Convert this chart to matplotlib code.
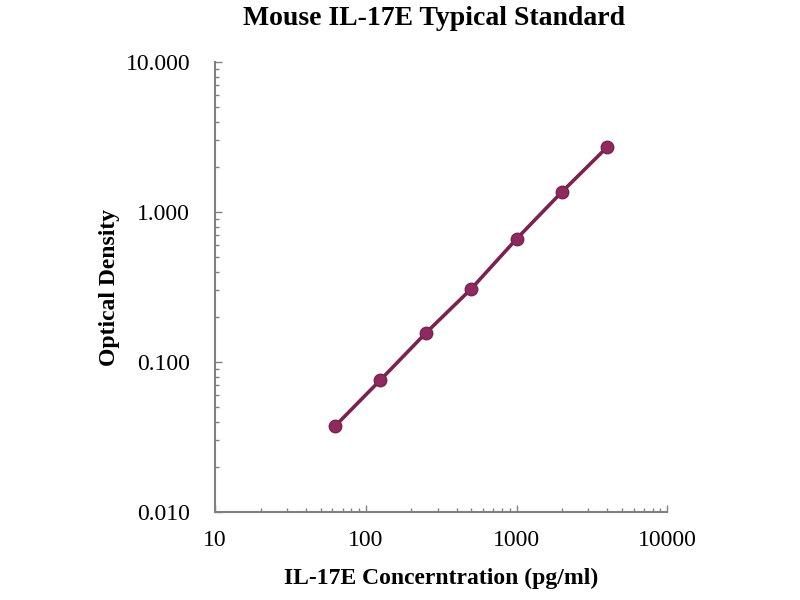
import matplotlib
matplotlib.use('Agg')
import matplotlib.pyplot as plt
from matplotlib.ticker import FixedLocator, FixedFormatter, LogLocator, NullFormatter

# standard curve readings
concentration = [62.5, 125, 250, 500, 1000, 2000, 4000]
optical_density = [0.0374, 0.0759, 0.156, 0.307, 0.661, 1.36, 2.71]

x_ticks = [10, 100, 1000, 10000]
x_labels = ['10', '100', '1000', '10000']
y_ticks = [0.01, 0.1, 1, 10]
y_labels = ['0.010', '0.100', '1.000', '10.000']

plt.rcParams['font.family'] = ['Liberation Serif', 'DejaVu Serif']

fig = plt.figure(figsize=(8, 6), dpi=100)
ax = fig.add_axes([0.269, 0.1467, 0.565, 0.75])

ax.plot(concentration, optical_density, color='#7a2350', linewidth=2.6,
        marker='o', markersize=9, markerfacecolor='#8e2a5e', markeredgecolor='#7a2350')

ax.set_xscale('log')
ax.set_yscale('log')
ax.set_xlim(10, 10000)
ax.set_ylim(0.01, 10)

ax.xaxis.set_major_locator(FixedLocator(x_ticks))
ax.xaxis.set_major_formatter(FixedFormatter(x_labels))
ax.yaxis.set_major_locator(FixedLocator(y_ticks))
ax.yaxis.set_major_formatter(FixedFormatter(y_labels))
ax.xaxis.set_minor_locator(LogLocator(base=10, subs=range(2, 10)))
ax.yaxis.set_minor_locator(LogLocator(base=10, subs=range(2, 10)))
ax.xaxis.set_minor_formatter(NullFormatter())
ax.yaxis.set_minor_formatter(NullFormatter())

# only left and bottom axes, ticks pointing in
for side in ['top', 'right']:
    ax.spines[side].set_visible(False)
for side in ['left', 'bottom']:
    ax.spines[side].set_color('#808080')
    ax.spines[side].set_linewidth(1.5)
ax.tick_params(which='both', direction='in', color='#808080', width=1)
ax.tick_params(which='major', length=5, labelsize=17)
ax.tick_params(which='minor', length=3)
ax.tick_params(axis='x', which='major', pad=13)
ax.tick_params(axis='y', which='major', pad=18)

ax.set_xlabel('IL-17E Concerntration (pg/ml)', fontsize=17, fontweight='bold', labelpad=12)
ax.set_ylabel('Optical Density', fontsize=17, fontweight='bold', labelpad=4)
fig.suptitle('Mouse IL-17E Typical Standard', x=0.543, y=0.99, fontsize=20, fontweight='bold')

fig.savefig('out.png', dpi=100)
